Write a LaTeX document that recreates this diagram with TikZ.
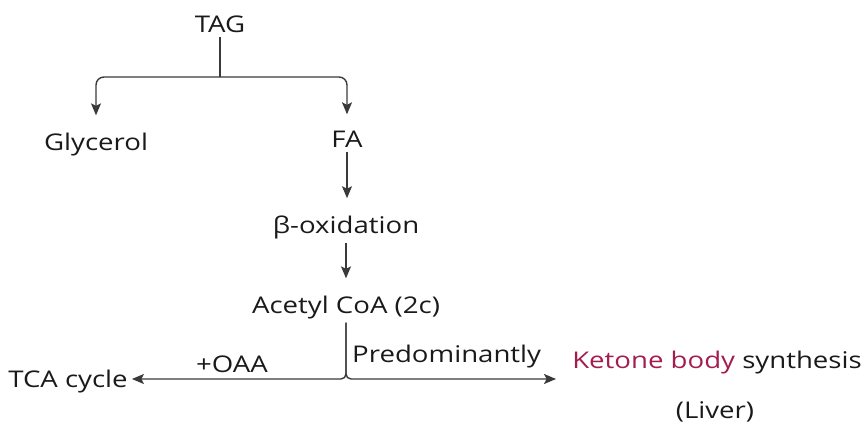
\documentclass[tikz,border=0pt]{standalone}
\usepackage{fontspec}
\setmainfont{Open Sans}[FakeStretch=1.2]
\usetikzlibrary{arrows.meta,positioning}
\definecolor{inkLine}{HTML}{3A3A3A}
\definecolor{inkText}{HTML}{1A1A1A}
\definecolor{ketoneText}{HTML}{A31D4F}
\tikzset{
  font=\fontsize{23}{27}\selectfont,
  lbl/.style  ={inner sep=4pt, anchor=base, text=inkText},
  link/.style ={draw=inkLine, line width=1.4pt},
  arr/.style  ={link, -{Stealth[length=12pt,width=10pt,inset=2.5pt]}},
  darr/.style ={arr, shorten >=13pt},
}

\begin{document}
\begin{tikzpicture}[x=1pt,y=-1pt]
  \useasboundingbox (0,0) rectangle (865,425);
  \node[lbl] (tag)      at (220,33)  {TAG};
  \node[lbl] (glycerol) at (96,150)  {Glycerol};
  \node[lbl] (fa)       at (347,148) {FA};
  \node[lbl] (betaox)   at (346,233) {β-oxidation};
  \node[lbl] (acetyl)   at (346,313) {Acetyl CoA (2c)};
  \node[lbl] (tca)      at (68,387)  {TCA cycle};
  \node[lbl] (ketone)   at (717,368) {\textcolor{ketoneText}{Ketone body} synthesis};
  \node[lbl] (liver)    at (715,418) {(Liver)};
  \node[lbl] (oaa)      at (232,372) {+OAA};
  \node[lbl, anchor=base west, inner sep=0pt] (predom) at (352,362) {Predominantly};

  \coordinate (split) at (tag.south |- 0,77);
  \coordinate (fork)  at (acetyl.south |- 0,379);

  \draw[link] (tag.south) -- (split);
  \draw[darr, rounded corners=8pt] (split) -| (glycerol.north);
  \draw[darr, rounded corners=8pt] (split) -| (fa.north);
  \draw[darr] (fa) -- (fa |- betaox.north);
  \draw[darr] (betaox) -- (betaox |- acetyl.north);
  \draw[arr, rounded corners=5pt] (acetyl.south) -- (fork) -- (tca.east |- fork);
  \draw[arr, rounded corners=5pt, shorten >=12pt] (acetyl.south) -- (fork) -- (ketone.west |- fork);
\end{tikzpicture}
\end{document}
